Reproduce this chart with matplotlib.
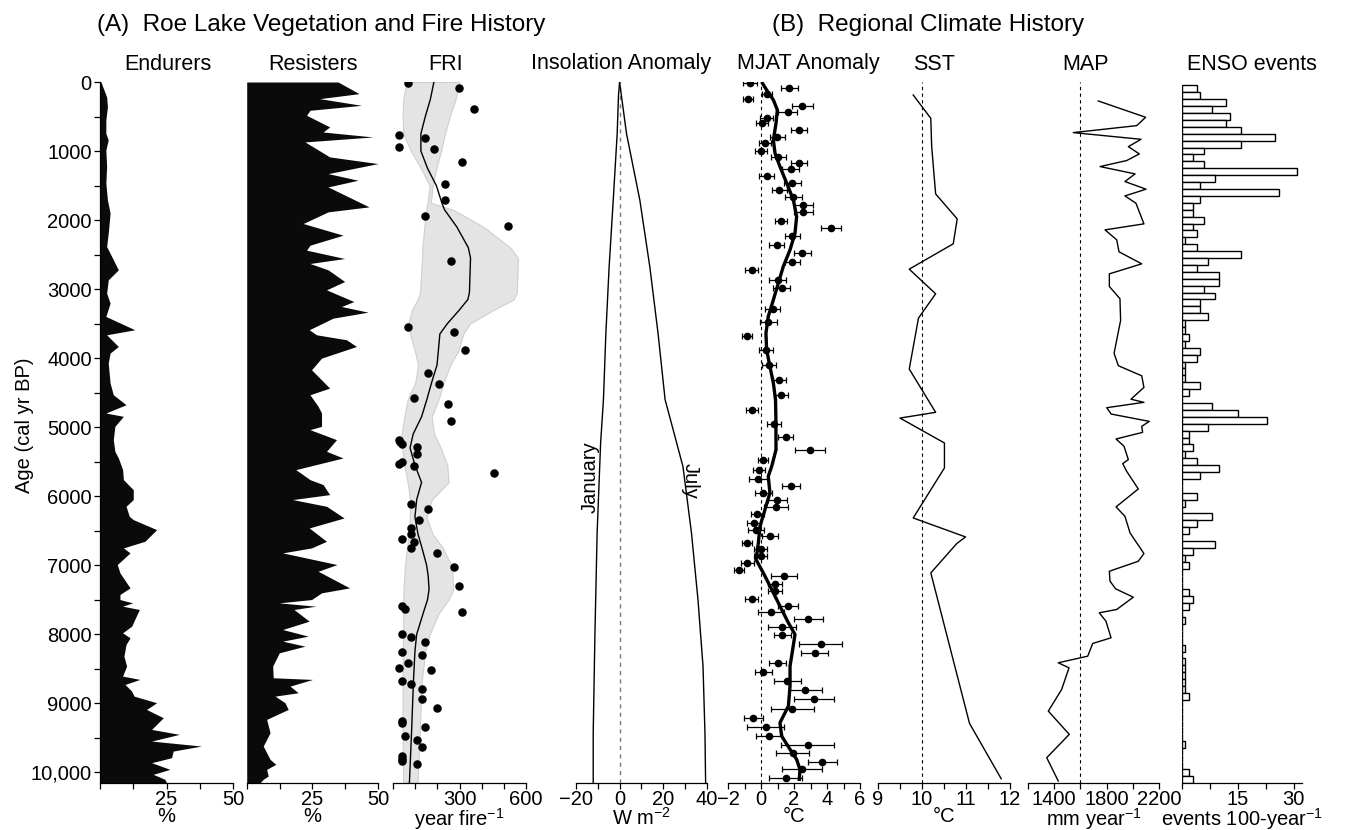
import numpy as np
import matplotlib
matplotlib.use('Agg')
import matplotlib.pyplot as plt

plt.rcParams['font.family'] = ['Liberation Sans', 'DejaVu Sans']
plt.rcParams['mathtext.default'] = 'regular'
plt.rcParams['axes.linewidth'] = 0.9

# ---- Endurers / Resisters pollen (%) ----
end_age = [0, 24, 217, 357, 550, 743, 839, 984, 1225, 1467, 1708, 1901, 2190, 2383, 2528, 2721,
           2866, 3059, 3203, 3396, 3589, 3662, 3831, 3927, 4072, 4361, 4530, 4675, 4795, 4843,
           4988, 5181, 5350, 5446, 5615, 5760, 5905, 6049, 6146, 6291, 6339, 6484, 6653, 6749,
           6821, 6990, 7111, 7328, 7424, 7497, 7545, 7593, 7641, 7883, 7979, 8051, 8148, 8317,
           8461, 8606, 8654, 8727, 8823, 8896, 8992, 9089, 9209, 9378, 9450, 9547, 9619, 9692,
           9788, 9860, 9957, 10029, 10101, 10150]
end_val = [0.5, 0.6, 2.5, 2.8, 2.2, 2.2, 3.1, 2.2, 2.5, 2.2, 2.8, 3.8, 3.1, 2.5, 4.4, 6.9,
           3.1, 2.5, 3.8, 2.2, 13.1, 2.5, 6.9, 3.8, 3.1, 3.8, 5.0, 9.8, 2.2, 8.8,
           5.6, 5.0, 5.6, 6.9, 8.5, 8.8, 12.5, 12.5, 9.8, 11.0, 12.5, 21.3, 16.9, 8.8,
           11.3, 6.5, 7.5, 11.3, 7.5, 7.5, 12.3, 8.5, 14.8, 11.9, 8.5, 11.3, 9.8, 9.0,
           10.0, 8.5, 15.0, 9.4, 11.9, 12.8, 21.3, 17.5, 23.8, 19.4, 29.8, 19.4, 38.1, 27.5,
           26.9, 19.4, 26.3, 20.0, 24.4, 25.0]

res_age = [0, 169, 241, 338, 410, 482, 651, 724, 796, 868, 1085, 1182, 1327, 1423, 1520, 1809,
           1881, 2050, 2219, 2364, 2436, 2557, 2629, 2721, 2890, 3011, 3180, 3252, 3334, 3421,
           3589, 3662, 3734, 3831, 4000, 4169, 4434, 4530, 4699, 4795, 4988, 5036, 5181, 5350,
           5446, 5615, 5760, 5832, 5977, 6049, 6146, 6315, 6460, 6653, 6749, 6821, 6990, 7087,
           7328, 7400, 7497, 7545, 7593, 7641, 7810, 7931, 8027, 8100, 8172, 8269, 8461, 8630,
           8654, 8751, 8847, 8896, 8992, 9089, 9233, 9426, 9619, 9812, 9884, 9957, 10053, 10101,
           10150]
res_val = [34.8, 42.8, 27.8, 43.7, 24.1, 22.8, 31.6, 29.1, 48.1, 22.2, 31.6, 50.0, 31.0, 42.4,
           31.0, 46.6, 31.0, 21.5, 36.7, 24.1, 22.8, 37.3, 24.1, 31.0, 37.3, 30.4, 40.8, 36.1,
           46.2, 32.9, 23.8, 26.6, 38.0, 41.8, 28.5, 24.7, 31.6, 24.1, 27.2, 28.5, 28.5, 24.1,
           34.2, 30.4, 36.7, 18.7, 24.1, 29.1, 31.6, 17.5, 30.4, 37.1, 23.8, 30.4, 24.7, 13.7,
           34.4, 27.2, 39.2, 28.5, 24.7, 12.4, 26.3, 18.0, 23.8, 13.7, 23.4, 13.7, 22.2, 12.4,
           9.9, 10.1, 25.1, 16.5, 19.6, 10.8, 14.6, 15.8, 7.6, 8.9, 6.3, 8.9, 11.1, 7.6, 8.2,
           6.3, 5.1]

# ---- Fire return interval (year fire^-1) ----
fri_age = [0, 250, 500, 750, 1000, 1250, 1500, 1750, 1850, 2100, 2400, 2550, 3050, 3150, 3300,
           3500, 3650, 3900, 4100, 4350, 4600, 4850, 5100, 5300, 5550, 5800, 6050, 6300, 6550,
           6750, 7000, 7150, 7350, 7500, 7700, 8000, 8250, 8700, 9400, 10150]
fri_mean = [184, 168, 145, 125, 125, 155, 195, 220, 232, 288, 340, 350, 345, 338, 300,
            245, 211, 204, 198, 174, 152, 128, 90, 76, 98, 128, 106, 98, 112,
            130, 151, 158, 162, 155, 135, 106, 98, 91, 83, 73]
fri_hi = [299, 282, 256, 234, 216, 195, 178, 170, 270, 410, 530, 565, 560, 545, 455,
          347, 317, 294, 258, 228, 205, 174, 185, 215, 245, 250, 175, 150, 178,
          225, 262, 268, 272, 250, 205, 165, 145, 128, 120, 110]
fri_lo = [60, 45, 42, 45, 80, 125, 165, 155, 150, 140, 132, 130, 121, 110, 85,
          68, 76, 98, 112, 100, 65, 50, 38, 40, 50, 65, 76, 75, 70,
          62, 53, 50, 46, 45, 45, 45, 43, 42, 42, 45]
fri_pt_age = [20, 92, 391, 767, 806, 945, 974, 1158, 1471, 1703, 1939, 2079, 2600, 3550, 3618,
              3888, 4211, 4370, 4578, 4670, 4916, 5181, 5215, 5244, 5292, 5393, 5533, 5499,
              5567, 5659, 6112, 6189, 6344, 6459, 6541, 6619, 6657, 6749, 6826, 7019, 7294,
              7593, 7632, 7680, 7998, 8037, 8114, 8259, 8297, 8423, 8490, 8519, 8683, 8722,
              8799, 8934, 9064, 9257, 9291, 9339, 9479, 9532, 9633, 9759, 9802, 9836, 9884]
fri_pt_val = [68, 299, 366, 27, 145, 27, 183, 313, 234, 234, 145, 520, 260, 68, 275,
              326, 157, 208, 92, 248, 260, 27, 30, 41, 106, 106, 27, 41,
              92, 455, 80, 157, 118, 80, 80, 41, 92, 80, 196, 273, 299,
              41, 54, 313, 41, 80, 145, 41, 131, 66, 27, 169, 41, 80,
              131, 131, 196, 41, 41, 145, 54, 106, 131, 41, 41, 41, 106]

# ---- Insolation anomaly (W m^-2) ----
jan_age = [0, 200, 750, 1710, 2680, 3650, 4600, 5230, 6530, 7980, 9430, 10150]
jan_val = [0, -0.5, -1.1, -2.9, -4.8, -6.3, -7.4, -8.7, -10.3, -11.3, -12.1, -12.1]
jul_age = [0, 750, 1710, 2680, 3650, 4600, 5570, 6530, 7500, 8460, 9430, 10150]
jul_val = [0, 3.2, 9.3, 13.9, 17.7, 20.9, 29.1, 33.0, 36.0, 38.3, 39.2, 39.5]

# ---- MJAT anomaly (deg C) ----
mjat_age = [10, 92, 179, 251, 343, 430, 516, 598, 695, 791, 888, 999, 1080, 1177, 1264, 1360,
            1466, 1563, 1669, 1780, 1886, 2007, 2118, 2238, 2359, 2480, 2610, 2730, 2866, 2991,
            3285, 3483, 3686, 3889, 4106, 4318, 4540, 4747, 4949, 5142, 5326, 5480, 5615, 5745,
            5847, 5953, 6059, 6160, 6257, 6387, 6484, 6580, 6676, 6763, 6860, 6966, 7062, 7159,
            7265, 7371, 7482, 7593, 7675, 7776, 7897, 8017, 8148, 8278, 8413, 8543, 8678, 8813,
            8944, 9079, 9219, 9344, 9474, 9605, 9725, 9846, 9957, 10077]
mjat_val = [-0.67, 1.72, 0.34, -0.81, 2.5, 1.62, 0.34, 0.04, 2.3, 0.99, 0.24, -0.02, 1.05, 2.3,
            1.8, 0.34, 1.9, 1.11, 1.96, 2.56, 2.56, 1.19, 4.22, 1.9, 0.95, 2.5, 1.9, -0.57, 1.01,
            1.25, 0.71, 0.44, -0.83, 0.3, 0.48, 1.11, 1.21, -0.57, 0.79, 1.5, 2.97, 0.14, -0.1,
            -0.16, 1.82, 0.14, 0.99, 0.91, -0.22, -0.42, -0.3, 0.55, -0.83, -0.02, -0.02, -0.83,
            -1.31, 1.39, 0.85, 0.85, -0.57, 1.66, 0.61, 2.87, 1.29, 1.29, 3.62, 3.25, 1.01, 0.14,
            1.6, 2.67, 3.21, 1.9, -0.47, 0.28, 0.48, 2.83, 1.92, 3.72, 2.5, 1.5]
mjat_err = [0.4, 0.5, 0.3, 0.3, 0.65, 0.57, 0.4, 0.36, 0.5, 0.45, 0.36, 0.36, 0.45, 0.5, 0.5,
            0.45, 0.5, 0.45, 0.5, 0.57, 0.57, 0.36, 0.6, 0.45, 0.45, 0.5, 0.45, 0.4, 0.5, 0.5,
            0.45, 0.5, 0.3, 0.4, 0.4, 0.4, 0.4, 0.36, 0.45, 0.45, 0.9, 0.3, 0.36, 0.57, 0.57,
            0.5, 0.57, 0.7, 0.4, 0.4, 0.5, 0.5, 0.3, 0.4, 0.4, 0.4, 0.3, 0.8, 0.45, 0.45, 0.4,
            0.6, 0.77, 0.9, 0.85, 0.5, 1.3, 0.8, 0.5, 0.5, 0.8, 1.0, 1.2, 1.3, 0.57, 1.1, 0.8,
            1.6, 1.0, 0.9, 1.2, 1.0]
mjat_fit_age = [19, 116, 260, 405, 598, 840, 1033, 1226, 1466, 1708, 1949, 2190, 2431, 2673,
                2914, 3155, 3396, 3638, 3879, 4120, 4361, 4602, 4843, 5326, 5567, 5711, 5953,
                6194, 6435, 6676, 6918, 7111, 7352, 7593, 7834, 8003, 8220, 8461, 8751, 9040,
                9281, 9474, 9667, 9812, 9957, 10102]
mjat_fit = [0.09, 0.34, 0.75, 0.99, 0.91, 0.75, 0.85, 1.15, 1.56, 1.96, 2.16, 2.06, 1.76, 1.35,
            1.05, 0.75, 0.44, 0.3, 0.34, 0.54, 0.75, 0.88, 0.9, 0.91, 0.65, 0.44, 0.54,
            0.24, -0.06, -0.16, -0.3, 0.14, 0.65, 1.15, 1.66, 2.06, 1.92, 1.76, 1.76, 1.66,
            1.15, 1.25, 1.76, 2.16, 2.36, 2.32]

# ---- SST (deg C) ----
sst_age = [188, 526, 936, 1621, 1983, 2344, 2711, 3068, 3420, 4158, 4785, 4868, 5229, 5591,
           6315, 6590, 6686, 7111, 9291, 10093]
sst_val = [9.80, 10.20, 10.22, 10.31, 10.80, 10.71, 9.71, 10.31, 9.92, 9.71, 10.31, 9.50,
           10.51, 10.51, 9.80, 10.99, 10.79, 10.20, 11.08, 11.80]

# ---- MAP (mm year^-1) ----
map_age = [275, 511, 632, 733, 830, 936, 1042, 1138, 1225, 1331, 1442, 1553, 1650, 1756, 2055,
           2142, 2286, 2460, 2634, 2779, 2962, 3139, 3453, 3930, 4110, 4256, 4424, 4595, 4640,
           4718, 4810, 4916, 4988, 5075, 5171, 5277, 5470, 5528, 5639, 5895, 6155, 6291, 6532,
           6831, 6942, 7087, 7231, 7342, 7463, 7641, 7689, 7810, 8051, 8133, 8317, 8413, 8486,
           8799, 9113, 9450, 9788, 10126]
map_val = [1737, 2098, 2030, 1546, 2063, 1966, 2050, 1953, 1750, 2017, 1940, 2101, 1940, 2024,
           2085, 1788, 1877, 1895, 2068, 1821, 1821, 1902, 1907, 1857, 1890, 2068, 2085, 1986,
           2085, 1801, 1835, 2126, 2068, 2075, 1872, 1933, 1966, 1923, 1953, 2042, 1872, 1940,
           1979, 2085, 2042, 1821, 1826, 1869, 2004, 1877, 1744, 1795, 1834, 1694, 1656, 1431,
           1513, 1457, 1355, 1515, 1343, 1431]

# ---- ENSO events per 100 years (bins centred 100 ... 10100) ----
enso_bin = list(range(100, 10200, 100))
enso_val = [4, 5, 12, 8, 13, 12, 16, 25, 16, 6,
            3, 6, 31, 9, 5, 26, 5, 3, 3, 6,
            3, 4, 1, 4, 16, 7, 4, 10, 10, 6,
            9, 5, 5, 7, 1, 1, 2, 1, 5, 4,
            1, 1, 1, 5, 2, 0, 8, 15, 23, 7,
            2, 2, 3, 1, 4, 10, 5, 0, 0, 4,
            1, 0, 8, 4, 2, 0, 9, 3, 1, 2,
            0, 0, 0, 2, 3, 2, 0, 1, 0, 0,
            0, 1, 0, 1, 1, 1, 1, 1, 2, 0,
            0, 0, 0, 0, 0, 1, 0, 0, 0, 2, 3]

W, H = 1363, 830
YTOP, YBOT = 82, 782.7
YMAX = 10150
FS = 14.5

fig = plt.figure(figsize=(W / 100, H / 100), dpi=100)


def panel(x0, x1, xlim, ticks, labels, xlabel):
    ax = fig.add_axes([x0 / W, 1 - YBOT / H, (x1 - x0) / W, (YBOT - YTOP) / H])
    ax.set_xlim(*xlim)
    ax.set_ylim(YMAX, 0)
    for s in ['top', 'right', 'left']:
        ax.spines[s].set_visible(False)
    ax.set_yticks([])
    ax.set_xticks(ticks)
    ax.set_xticklabels(labels, fontsize=FS)
    ax.tick_params(axis='x', length=4, width=0.9, pad=1.5)
    ax.set_xlabel(xlabel, fontsize=FS, labelpad=-2)
    return ax


pct_ticks = [0, 12.5, 25, 37.5, 50]
pct_labels = ['', '', '25', '', '50']

# Endurers
ax = panel(100, 233, (0, 50), pct_ticks, pct_labels, '%')
ax.fill_betweenx(end_age, 0, end_val, color='#0a0a0a', lw=0)
ax.spines['left'].set_visible(True)
ax.set_yticks(list(range(0, 10001, 500)))
ax.set_yticklabels([('10,000' if a == 10000 else str(a)) if a % 1000 == 0 else ''
                    for a in range(0, 10001, 500)], fontsize=FS)
ax.tick_params(axis='y', length=4, width=0.9, pad=2)
fig.text(24 / W, 1 - 425 / H, 'Age (cal yr BP)', rotation=90, ha='center', va='center',
         fontsize=FS)

# Resisters
ax = panel(246.7, 378, (0, 50), pct_ticks, pct_labels, '%')
ax.fill_betweenx(res_age, 0, res_val, color='#0a0a0a', lw=0)

# FRI
ax = panel(393.3, 525.7, (0, 600), list(range(0, 601, 100)),
           ['', '', '', '300', '', '', '600'], 'year fire$^{-1}$')
ax.fill_betweenx(fri_age, fri_lo, fri_hi, color='#e4e4e4', edgecolor='#cfcfcf', lw=0.8)
ax.plot(fri_mean, fri_age, color='k', lw=1)
ax.scatter(fri_pt_val, fri_pt_age, s=26, color='k', zorder=3)

# Insolation
ax = panel(576, 706.7, (-20, 40), list(range(-20, 41, 10)),
           ['\u221220', '', '0', '', '20', '', '40'], 'W m$^{-2}$')
ax.axvline(0, color='#777777', lw=1, ls=(0, (3, 3)))
ax.plot(jan_val, jan_age, color='k', lw=1)
ax.plot(jul_val, jul_age, color='k', lw=1)
ax.text(-13.6, 5730, 'January', rotation=90, ha='center', va='center', fontsize=FS)
ax.text(32.2, 5780, 'July', rotation=270, ha='center', va='center', fontsize=FS)

# MJAT
ax = panel(728, 860, (-2, 6), list(range(-2, 7)),
           ['\u22122', '', '0', '', '2', '', '4', '', '6'], '°C')
ax.axvline(0, color='k', lw=0.8, ls=(0, (3, 3)))
ax.errorbar(mjat_val, mjat_age, xerr=mjat_err, fmt='o', color='k', ms=4.5,
            capsize=2.5, elinewidth=0.9, capthick=0.9)
ax.plot(mjat_fit, mjat_fit_age, color='k', lw=2.4)

# SST
ax = panel(878, 1010, (9, 12), [9, 9.5, 10, 10.5, 11, 11.5, 12],
           ['9', '', '10', '', '11', '', '12'], '°C')
ax.axvline(10, color='k', lw=0.8, ls=(0, (3, 3)))
ax.plot(sst_val, sst_age, color='k', lw=1)

# MAP
ax = panel(1028, 1159, (1200, 2200), list(range(1200, 2201, 200)),
           ['', '1400', '', '1800', '', '2200'], 'mm year$^{-1}$')
ax.axvline(1600, color='k', lw=0.8, ls=(0, (3, 3)))
ax.plot(map_val, map_age, color='k', lw=1)

# ENSO
ax = panel(1181.7, 1301.7, (0, 32.2), [0, 7.5, 15, 22.5, 30],
           ['', '', '15', '', '30'], 'events 100-year$^{-1}$')
ax.barh(enso_bin, enso_val, height=100, color='white', edgecolor='k', lw=1)

# panel titles
titles = [('Endurers', 168), ('Resisters', 313), ('FRI', 446), ('Insolation Anomaly', 621),
          ('MJAT Anomaly', 808), ('SST', 934), ('MAP', 1086), ('ENSO events', 1252)]
for t, x in titles:
    fig.text(x / W, 1 - 64 / H, t, ha='center', va='center', fontsize=15.5)

fig.text(97 / W, 1 - 25 / H, '(A)  Roe Lake Vegetation and Fire History',
         ha='left', va='center', fontsize=17.5)
fig.text(772 / W, 1 - 25 / H, '(B)  Regional Climate History',
         ha='left', va='center', fontsize=17.5)

fig.savefig('out.png', dpi=100)
